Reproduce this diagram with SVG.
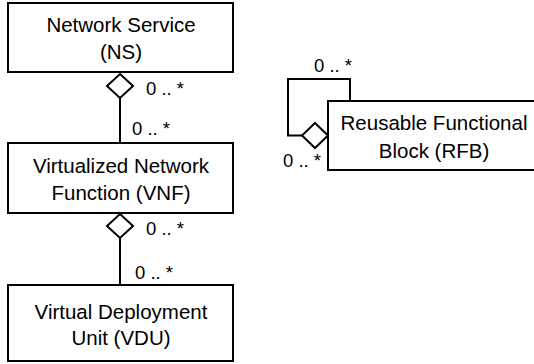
<svg xmlns="http://www.w3.org/2000/svg" width="534" height="364" viewBox="0 0 534 364">
<style>
.box{fill:#fff;stroke:#000;stroke-width:2}
.ln{fill:none;stroke:#000;stroke-width:2}
.dia{fill:#fff;stroke:#000;stroke-width:2}
text{font-family:"Liberation Sans",Arial,sans-serif;font-size:20.5px;fill:#000}
.c{text-anchor:middle}
.m{font-size:18.5px}
</style>
<rect width="534" height="364" fill="#fff"/>
<g id="connectors">
<line class="ln" x1="120" y1="98" x2="120" y2="143"/>
<polygon class="dia" points="120,74 133,86 120,98 107,86"/>
<line class="ln" x1="120" y1="238" x2="120" y2="285"/>
<polygon class="dia" points="120,214 133,226 120,238 107,226"/>
<polyline class="ln" points="303,135.5 288,135.5 288,79 350,79 350,101"/>
<polygon class="dia" points="315,123 328,135.5 315,148 302,135.5"/>
<text class="m" x="146" y="95">0 .. *</text>
<text class="m" x="132" y="135">0 .. *</text>
<text class="m" x="146" y="235">0 .. *</text>
<text class="m" x="135" y="279">0 .. *</text>
<text class="m" x="314" y="72">0 .. *</text>
<text class="m" x="283" y="167">0 .. *</text>
</g>
<g id="ns">
<rect class="box" x="8" y="3" width="225" height="69"/>
<text class="c" x="121" y="32">Network Service</text>
<text class="c" x="121" y="59">(NS)</text>
</g>
<g id="vnf">
<rect class="box" x="8" y="143" width="225" height="70"/>
<text class="c" x="121" y="173">Virtualized Network</text>
<text class="c" x="121" y="200">Function (VNF)</text>
</g>
<g id="vdu">
<rect class="box" x="8" y="285" width="225" height="76"/>
<text class="c" x="121" y="319">Virtual Deployment</text>
<text class="c" x="121" y="345">Unit (VDU)</text>
</g>
<g id="rfb">
<rect class="box" x="328" y="101" width="220" height="69"/>
<text class="c" x="434" y="130">Reusable Functional</text>
<text class="c" x="434" y="158">Block (RFB)</text>
</g>
</svg>
